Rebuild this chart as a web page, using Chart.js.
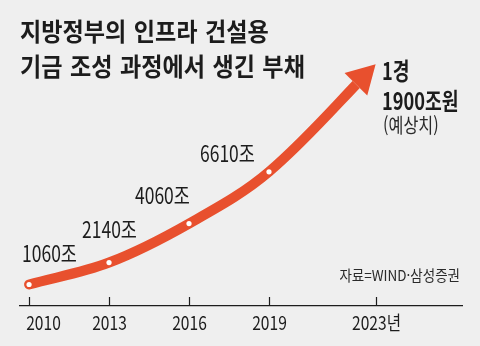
<!DOCTYPE html>
<html lang="ko">
<head>
<meta charset="utf-8">
<script src="https://cdn.jsdelivr.net/npm/chart.js@4/dist/chart.umd.min.js"></script>
<style>
  html, body { margin: 0; padding: 0; background: #efefef; }
  #wrap { position: relative; width: 480px; height: 346px; overflow: hidden;
          font-family: "Noto Sans CJK KR", sans-serif; color: #1c1c1c; }
  #chart { position: absolute; left: 0; top: 0; }
  .txt { position: absolute; white-space: nowrap; line-height: 1; transform-origin: 0 0; }
  .title { left: 20px; font-size: 25px; font-weight: 700; transform: scaleX(0.925); word-spacing: 1px; }
  .big { left: 382px; font-size: 24px; font-weight: 700; transform: scaleX(0.76); }
  .note { left: 383px; top: 115px; font-size: 20px; color: #2a2a2a; transform: scaleX(0.81); }
  .src { right: 20px; top: 267px; font-size: 15px; color: #2a2a2a; transform-origin: 100% 0; transform: scaleX(0.9); }
</style>
</head>
<body>
<div id="wrap">
  <canvas id="chart" width="480" height="346"></canvas>
  <div class="txt title" style="top:18px">지방정부의 인프라 건설용</div>
  <div class="txt title" style="top:53px">기금 조성 과정에서 생긴 부채</div>
  <div class="txt big" style="top:58px">1경</div>
  <div class="txt big" style="top:88px">1900조원</div>
  <div class="txt note">(예상치)</div>
  <div class="txt src">자료=WIND·삼성증권</div>
</div>
<script>
// 지방정부 부채 (조 위안), 2023년은 전망치
const years = [2010, 2013, 2016, 2019, 2023];
const debt = [1060, 2140, 4060, 6610, 11900];
const pointLabels = ['1060조', '2140조', '4060조', '6610조'];
const tickYears = [2010, 2013, 2016, 2019, 2023];
const tickLabels = ['2010', '2013', '2016', '2019', '2023년'];

const LINE = '#e8502e';
const INK = '#1c1c1c';

// 마지막 점에 화살촉을 그림 (선 끝은 잘라내고 삼각형으로 덮음)
const arrowHead = {
  id: 'arrowHead',
  _geom(chart, opts) {
    const pts = chart.getDatasetMeta(0).data;
    const tip = pts[pts.length - 1], prev = pts[pts.length - 2];
    let dx = tip.x - prev.x, dy = tip.y - prev.y;
    const len = Math.hypot(dx, dy);
    dx /= len; dy /= len;
    return { tip, dx, dy, bx: tip.x - dx * opts.length, by: tip.y - dy * opts.length };
  },
  beforeDatasetsDraw(chart, args, opts) {
    const g = this._geom(chart, opts);
    const ctx = chart.ctx, R = 2000, px = -g.dy, py = g.dx;
    ctx.save();
    ctx.beginPath();
    ctx.moveTo(g.bx + px * R, g.by + py * R);
    ctx.lineTo(g.bx + px * R - g.dx * R, g.by + py * R - g.dy * R);
    ctx.lineTo(g.bx - px * R - g.dx * R, g.by - py * R - g.dy * R);
    ctx.lineTo(g.bx - px * R, g.by - py * R);
    ctx.closePath();
    ctx.clip();
  },
  afterDatasetsDraw(chart, args, opts) {
    const ctx = chart.ctx;
    ctx.restore();
    const g = this._geom(chart, opts);
    const px = -g.dy, py = g.dx, w = opts.halfWidth;
    ctx.save();
    ctx.fillStyle = LINE;
    ctx.beginPath();
    ctx.moveTo(g.tip.x, g.tip.y);
    ctx.lineTo(g.bx + px * w, g.by + py * w);
    ctx.lineTo(g.bx - px * w, g.by - py * w);
    ctx.closePath();
    ctx.fill();
    ctx.restore();
  }
};

// 각 점 위의 값 라벨 (좁은 글꼴 느낌을 위해 가로로 눌러 그림)
const valueLabels = {
  id: 'valueLabels',
  afterDatasetsDraw(chart, args, opts) {
    const ctx = chart.ctx;
    const pts = chart.getDatasetMeta(0).data;
    ctx.save();
    ctx.fillStyle = INK;
    ctx.font = '23px "Noto Sans CJK KR"';
    ctx.textBaseline = 'alphabetic';
    pointLabels.forEach((txt, i) => {
      const [ox, oy] = opts.offsets[i];
      ctx.save();
      ctx.translate(pts[i].x + ox, pts[i].y + oy);
      ctx.scale(0.76, 1);
      ctx.fillText(txt, 0, 0);
      ctx.restore();
    });
    ctx.restore();
  }
};

// x축 눈금: 축선 위로 짧은 선, 아래에 연도
const yearTicks = {
  id: 'yearTicks',
  afterDraw(chart, args, opts) {
    const ctx = chart.ctx;
    const xs = chart.scales.x;
    const base = chart.chartArea.bottom;
    ctx.save();
    ctx.strokeStyle = INK;
    ctx.lineWidth = 1.2;
    ctx.fillStyle = INK;
    ctx.font = '19px "Noto Sans CJK KR"';
    ctx.textAlign = 'center';
    tickYears.forEach((yr, i) => {
      const x = Math.round(xs.getPixelForValue(yr)) + 0.5;
      ctx.beginPath();
      ctx.moveTo(x, base - 9);
      ctx.lineTo(x, base);
      ctx.stroke();
      ctx.save();
      ctx.translate(x + (i === 0 ? 14 : 0), base + 24);
      ctx.scale(0.82, 1);
      ctx.fillText(tickLabels[i], 0, 0);
      ctx.restore();
    });
    ctx.restore();
  }
};

new Chart(document.getElementById('chart'), {
  type: 'line',
  data: {
    datasets: [{
      data: years.map((y, i) => ({ x: y, y: debt[i] })),
      borderColor: LINE,
      borderWidth: 10,
      borderCapStyle: 'round',
      tension: 0.35,
      clip: false,
      pointRadius: ctx => ctx.dataIndex < pointLabels.length ? 2.6 : 0,
      pointBackgroundColor: '#ffffff',
      pointBorderWidth: 0
    }]
  },
  options: {
    responsive: false,
    animation: false,
    events: [],
    layout: { padding: { left: 20, right: 18, top: 40, bottom: 40 } },
    scales: {
      x: {
        type: 'linear',
        min: 2009.66,
        max: 2026.24,
        afterBuildTicks: scale => { scale.ticks = tickYears.map(v => ({ value: v })); },
        grid: { display: false, drawTicks: false },
        border: { display: true, color: INK, width: 1.2 },
        ticks: { display: false }
      },
      y: { display: false, min: 0, max: 13100 }
    },
    plugins: {
      legend: { display: false },
      tooltip: { enabled: false },
      arrowHead: { length: 28, halfWidth: 16 },
      valueLabels: { offsets: [[-7, -22], [-27, -25], [-54, -20], [-69, -10]] }
    }
  },
  plugins: [arrowHead, valueLabels, yearTicks]
});
</script>
</body>
</html>
